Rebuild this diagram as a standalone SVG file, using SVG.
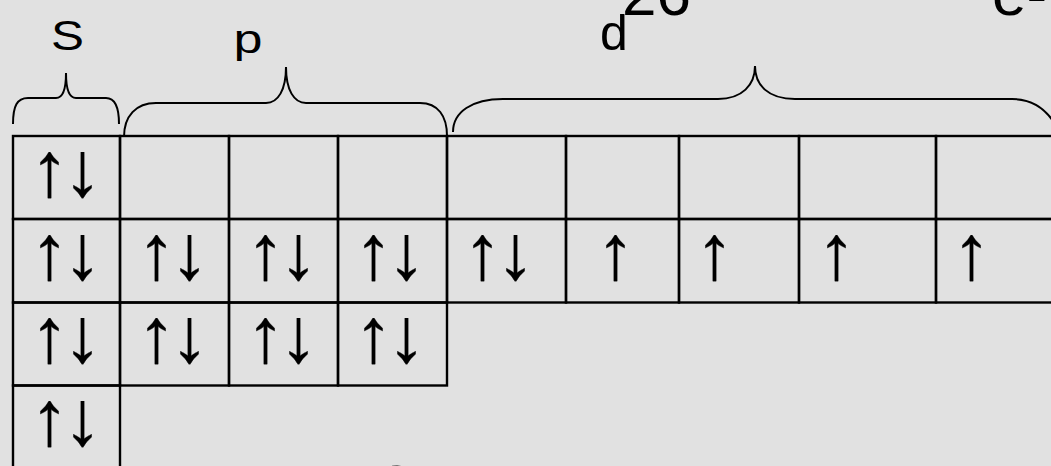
<svg xmlns="http://www.w3.org/2000/svg" width="1051" height="466" viewBox="0 0 1051 466">
<style>
.cell{fill:none;stroke:#000;stroke-width:2.4}
.arr{font-family:"Liberation Sans",Arial,sans-serif;font-size:78px;letter-spacing:-6px;fill:#000;stroke:#000;stroke-width:0.3}
.lbl{font-family:"Liberation Sans",Arial,sans-serif;fill:#000}
.brace{fill:none;stroke:#000;stroke-width:2}
</style>
<rect x="0" y="0" width="1051" height="466" fill="#e1e1e1"/>
<g id="labels">
<text class="lbl" x="51" y="50" font-size="42" textLength="33" lengthAdjust="spacingAndGlyphs">S</text>
<text class="lbl" x="233.5" y="53.4" font-size="41" textLength="29" lengthAdjust="spacingAndGlyphs">p</text>
<text class="lbl" x="600" y="50" font-size="50">d</text>
<text class="lbl" x="622" y="15" font-size="62">26</text>
<text class="lbl" x="992" y="15" font-size="62">e-</text>
<text class="lbl" x="397" y="508" font-size="62" text-anchor="middle">O</text>
</g>
<g id="braces">
<path class="brace" d="M13,124 C13,106 17,98 28,98 L56,98 C62,98 66,90 66,73 C66,90 70,98 76,98 L106,98 C115,98 119,106 119,124"/>
<path class="brace" d="M124,137 C124,116 136,103 156,103 L266,103 C278,103 286,90 286,67 C286,90 294,103 306,103 L420,103 C438,103 447,116 447,136"/>
<path class="brace" d="M453,132 C453,112 472,99 503,99 L718,99 C742,99 755,85 755,66 C755,85 768,99 795,99 L1012,99 C1032,99 1046,108 1056,126"/>
</g>
<g id="row1">
<g id="r1-s"><rect class="cell" x="13" y="136" width="107" height="83"/><text class="arr" x="30" y="195.5">↑↓</text></g>
<g id="r1-p1"><rect class="cell" x="120" y="136" width="109" height="83"/></g>
<g id="r1-p2"><rect class="cell" x="229" y="136" width="109" height="83"/></g>
<g id="r1-p3"><rect class="cell" x="338" y="136" width="109" height="83"/></g>
<g id="r1-d1"><rect class="cell" x="447" y="136" width="119" height="83"/></g>
<g id="r1-d2"><rect class="cell" x="566" y="136" width="113" height="83"/></g>
<g id="r1-d3"><rect class="cell" x="679" y="136" width="120" height="83"/></g>
<g id="r1-d4"><rect class="cell" x="799" y="136" width="137" height="83"/></g>
<g id="r1-d5"><rect class="cell" x="936" y="136" width="130" height="83"/></g>
</g>
<g id="row2">
<g id="r2-s"><rect class="cell" x="13" y="219" width="107" height="83.5"/><text class="arr" x="30" y="278.5">↑↓</text></g>
<g id="r2-p1"><rect class="cell" x="120" y="219" width="109" height="83.5"/><text class="arr" x="137" y="278.5">↑↓</text></g>
<g id="r2-p2"><rect class="cell" x="229" y="219" width="109" height="83.5"/><text class="arr" x="246" y="278.5">↑↓</text></g>
<g id="r2-p3"><rect class="cell" x="338" y="219" width="109" height="83.5"/><text class="arr" x="354" y="278.5">↑↓</text></g>
<g id="r2-d1"><rect class="cell" x="447" y="219" width="119" height="83.5"/><text class="arr" x="463" y="278.5">↑↓</text></g>
<g id="r2-d2"><rect class="cell" x="566" y="219" width="113" height="83.5"/><text class="arr" x="596" y="278.5">↑</text></g>
<g id="r2-d3"><rect class="cell" x="679" y="219" width="120" height="83.5"/><text class="arr" x="695" y="278.5">↑</text></g>
<g id="r2-d4"><rect class="cell" x="799" y="219" width="137" height="83.5"/><text class="arr" x="817" y="278.5">↑</text></g>
<g id="r2-d5"><rect class="cell" x="936" y="219" width="130" height="83.5"/><text class="arr" x="952" y="278.5">↑</text></g>
</g>
<g id="row3">
<g id="r3-s"><rect class="cell" x="13" y="302.5" width="107" height="83"/><text class="arr" x="30" y="362">↑↓</text></g>
<g id="r3-p1"><rect class="cell" x="120" y="302.5" width="109" height="83"/><text class="arr" x="137" y="362">↑↓</text></g>
<g id="r3-p2"><rect class="cell" x="229" y="302.5" width="109" height="83"/><text class="arr" x="246" y="362">↑↓</text></g>
<g id="r3-p3"><rect class="cell" x="338" y="302.5" width="109" height="83"/><text class="arr" x="354" y="362">↑↓</text></g>
</g>
<g id="row4">
<g id="r4-s"><rect class="cell" x="13" y="385.5" width="107" height="90"/><text class="arr" x="30" y="445">↑↓</text></g>
</g>
</svg>
